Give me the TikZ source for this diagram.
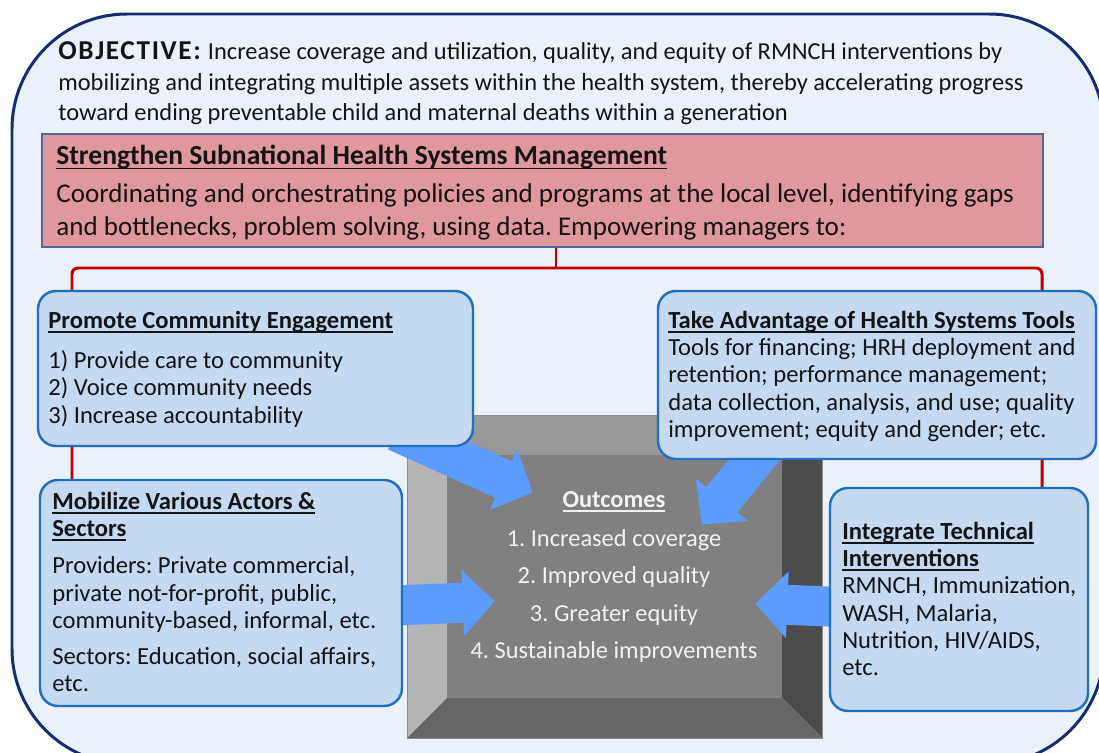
\documentclass[tikz,border=0pt]{standalone}
\usepackage{fontspec}
\setmainfont{Carlito}
\usetikzlibrary{arrows.meta,fit,calc}
\frenchspacing

\definecolor{framenavy}{RGB}{22,44,112}
\definecolor{framefill}{RGB}{234,241,250}
\definecolor{mgmtfill}{RGB}{224,151,157}
\definecolor{mgmtline}{RGB}{84,100,156}
\definecolor{boxfill}{RGB}{197,217,241}
\definecolor{boxline}{RGB}{33,112,190}
\definecolor{bracketred}{RGB}{192,0,0}
\definecolor{arrowblue}{RGB}{92,156,255}
\definecolor{inktext}{RGB}{20,20,20}

% bold heading with an underline just under the baseline
\newcommand\uhead[1]{\textbf{\setbox0\hbox{#1}\rlap{\rule[-0.17em]{\wd0}{0.065em}}\box0}}

\pgfdeclarelayer{bottom}
\pgfdeclarelayer{under}
\pgfsetlayers{bottom,under,main}

\tikzset{
  frame/.style={draw=framenavy, fill=framefill, line width=1.7pt, rounded corners=2.3cm},
  mgmtbox/.style={draw=mgmtline, fill=mgmtfill, line width=0.8pt, inner sep=0pt},
  areabox/.style={draw=boxline, fill=boxfill, line width=1.4pt, rounded corners=0.36cm, inner sep=0pt},
  boxtext/.style={anchor=north west, align=left, inner sep=0pt, text=inktext,
    font=\fontsize{14}{15.5}\selectfont},
  bracket/.style={draw=bracketred, line width=1.7pt, rounded corners=0.12cm},
  push/.style={draw=arrowblue, line width=0.8cm, -{Triangle[length=0.64cm,width=1.3cm]}},
}

\begin{document}
\begin{tikzpicture}[x=0.02cm, y=-0.02cm]
\useasboundingbox (0,0) rectangle (1099,753);

\begin{pgfonlayer}{bottom}
  \draw[frame] (12,14) rectangle (1104,764);
  % bevelled plate behind the outcomes
  \fill[black!40] (407,415) -- (822,415) -- (782,455) -- (447,455) -- cycle;
  \fill[black!29] (407,415) -- (447,455) -- (447,698) -- (407,738) -- cycle;
  \fill[black!70] (822,415) -- (822,738) -- (782,698) -- (782,455) -- cycle;
  \fill[black!60] (407,738) -- (447,698) -- (782,698) -- (822,738) -- cycle;
  \fill[black!50] (447,455) rectangle (782,698);
  \draw[black!45, line width=0.4pt] (407,415) rectangle (822,738);
\end{pgfonlayer}

% objective
\node[boxtext, font=\fontsize{13.9}{17.4}\selectfont] (objective) at (58,38)
  {\strut{\fontsize{15.5}{17.4}\selectfont\addfontfeature{LetterSpace=6}\textbf{OBJECTIVE:}} Increase coverage and utilization, quality, and equity of RMNCH interventions by\\
   mobilizing and integrating multiple assets within the health system, thereby accelerating progress\\
   toward ending preventable child and maternal deaths within a generation};

% management
\node[mgmtbox, fit={(42,134) (1043,247)}] (mgmt) {};
\node[boxtext, font=\fontsize{15.4}{19}\selectfont] (mgmttext) at (56,141)
  {\strut{\fontsize{15.7}{19}\selectfont\uhead{Strengthen Subnational Health Systems Management}}\\[0.08cm]
   Coordinating and orchestrating policies and programs at the local level, identifying gaps\\
   and bottlenecks, problem solving, using data. Empowering managers to:};

% the four areas
\node[areabox, fit={(38,291) (473,446)}] (promote) {};
\node[boxtext] (promotetext) at (48,309)
  {\strut\uhead{Promote Community Engagement}\\[0.26cm]
   1) Provide care to community\\
   2) Voice community needs\\
   3) Increase accountability};

\node[areabox, fit={(658,291) (1096,459)}] (tools) {};
\node[boxtext] (toolstext) at (668,309)
  {\strut\uhead{Take Advantage of Health Systems Tools}\\
   Tools for financing; HRH deployment and\\
   retention; performance management;\\
   data collection, analysis, and use; quality\\
   improvement; equity and gender; etc.};

\node[areabox, fit={(40,480) (402,706)}] (mobilize) {};
\node[boxtext] (mobilizetext) at (52,490)
  {\strut\uhead{Mobilize Various Actors \&}\\
   \uhead{Sectors}\\[0.2cm]
   Providers: Private commercial,\\
   private not-for-profit, public,\\
   community-based, informal, etc.\\[0.18cm]
   Sectors: Education, social affairs,\\
   etc.};

\node[areabox, fit={(830,488) (1088,711)}] (integrate) {};
\node[boxtext] (integratetext) at (842,520)
  {\strut\uhead{Integrate Technical}\\
   \uhead{Interventions}\\
   RMNCH, Immunization,\\
   WASH, Malaria,\\
   Nutrition, HIV/AIDS,\\
   etc.};

% outcomes
\node[fit={(447,455) (782,698)}, inner sep=0pt] (plate) {};
\node[anchor=north, align=center, inner sep=0pt, text=white!95!black,
      font=\fontsize{13.9}{21.3}\selectfont] (outcomes) at (614,481)
  {\strut\uhead{Outcomes}\\[0.03cm]
   1. Increased coverage\\
   2. Improved quality\\
   3. Greater equity\\
   4. Sustainable improvements};

\begin{pgfonlayer}{under}
  \coordinate (bl) at (72,268);
  \coordinate (br) at (1042,268);
  \coordinate (brace) at (556,268);
  \draw[bracket] (mobilize.north -| bl) -- (bl) -- (br) -- (integrate.north -| br);
  \draw[bracket] (mgmt.south -| brace) -- (brace);
  % arrows into the outcomes
  \draw[push] ($(promote.south east)+(-78,-16)$) -- ($(plate.north west)+(86,38)$);
  \draw[push] ($(tools.south west)+(120,-28)$) -- ($(plate.north west)+(255,70)$);
  \draw[push] ($(mobilize.east)+(-22,13)$) -- ($(plate.west)+(48,25)$);
  \draw[push] ($(integrate.west)+(22,8)$) -- ($(plate.east)+(-27,27)$);
\end{pgfonlayer}
\end{tikzpicture}
\end{document}
